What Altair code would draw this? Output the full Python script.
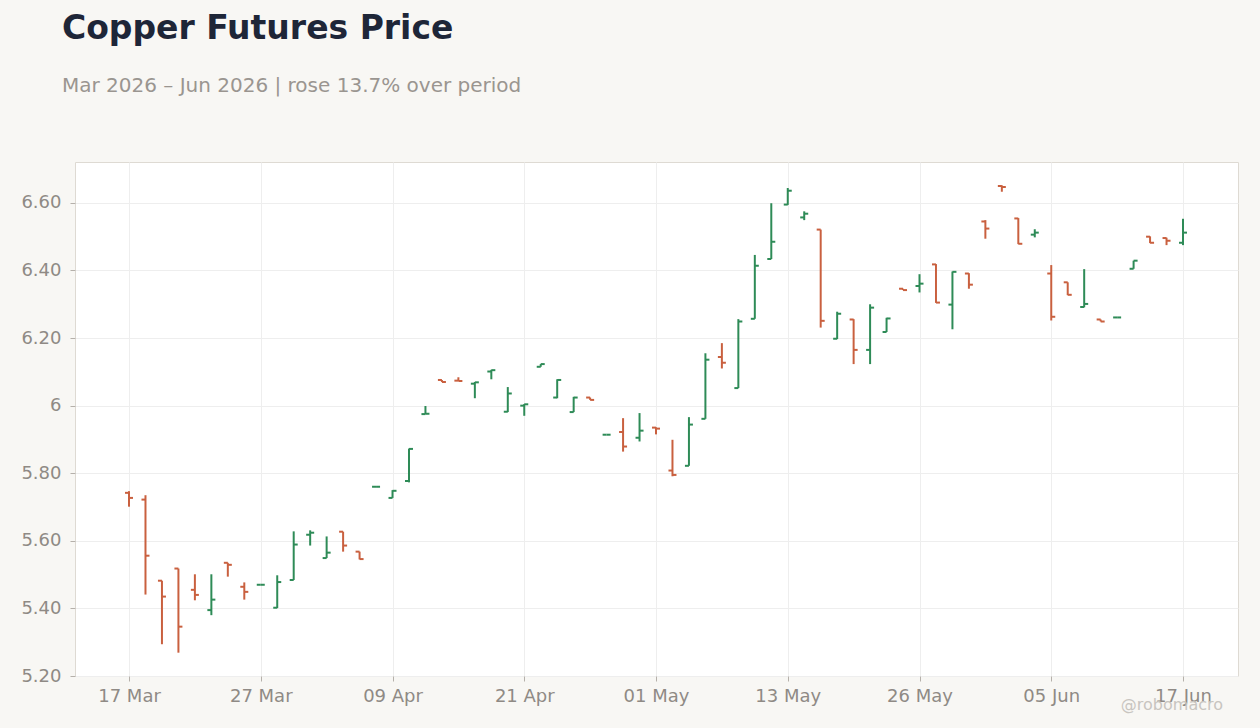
import altair as alt
import pandas as pd

dates = ["17 Mar", "18 Mar", "19 Mar", "20 Mar", "23 Mar", "24 Mar", "25 Mar", "26 Mar", "27 Mar",
         "30 Mar", "31 Mar", "01 Apr", "02 Apr", "06 Apr", "07 Apr", "08 Apr", "09 Apr",
         "10 Apr", "13 Apr", "14 Apr", "15 Apr", "16 Apr", "17 Apr", "20 Apr", "21 Apr",
         "22 Apr", "23 Apr", "24 Apr", "27 Apr", "28 Apr", "29 Apr", "30 Apr", "01 May",
         "04 May", "05 May", "06 May", "07 May", "08 May", "11 May", "12 May", "13 May",
         "14 May", "15 May", "18 May", "19 May", "20 May", "21 May", "22 May", "26 May",
         "27 May", "28 May", "29 May", "01 Jun", "02 Jun", "03 Jun", "04 Jun", "05 Jun",
         "08 Jun", "09 Jun", "10 Jun", "11 Jun", "12 Jun", "15 Jun", "16 Jun", "17 Jun"]

open_ = [5.742, 5.722, 5.482, 5.518, 5.455, 5.395, 5.535, 5.464, 5.470,
         5.402, 5.484, 5.618, 5.549, 5.627, 5.568, 5.760, 5.727,
         5.777, 5.975, 6.076, 6.074, 6.065, 6.101, 5.982, 6.000,
         6.115, 6.024, 5.981, 6.024, 5.914, 5.922, 5.905, 5.935,
         5.808, 5.822, 5.961, 6.144, 6.052, 6.257, 6.434, 6.595,
         6.557, 6.521, 6.198, 6.255, 6.165, 6.218, 6.346, 6.354,
         6.418, 6.299, 6.391, 6.545, 6.650, 6.554, 6.506, 6.391,
         6.365, 6.292, 6.255, 6.261, 6.405, 6.500, 6.496, 6.482]
high = [5.747, 5.735, 5.482, 5.518, 5.501, 5.501, 5.535, 5.477, 5.470,
        5.498, 5.628, 5.631, 5.613, 5.627, 5.568, 5.760, 5.750,
        5.873, 5.999, 6.076, 6.084, 6.070, 6.106, 6.055, 6.005,
        6.123, 6.078, 6.026, 6.024, 5.914, 5.963, 5.978, 5.936,
        5.899, 5.966, 6.155, 6.185, 6.256, 6.446, 6.599, 6.644,
        6.575, 6.521, 6.278, 6.256, 6.300, 6.260, 6.346, 6.389,
        6.419, 6.397, 6.392, 6.549, 6.652, 6.555, 6.522, 6.416,
        6.365, 6.404, 6.255, 6.261, 6.429, 6.501, 6.497, 6.553]
low = [5.701, 5.441, 5.294, 5.269, 5.424, 5.380, 5.494, 5.426, 5.470,
       5.401, 5.484, 5.586, 5.549, 5.568, 5.545, 5.760, 5.727,
       5.773, 5.975, 6.070, 6.073, 6.022, 6.078, 5.981, 5.970,
       6.115, 6.022, 5.981, 6.017, 5.914, 5.864, 5.894, 5.915,
       5.791, 5.822, 5.961, 6.110, 6.052, 6.257, 6.434, 6.594,
       6.549, 6.231, 6.197, 6.123, 6.123, 6.218, 6.342, 6.335,
       6.304, 6.226, 6.346, 6.494, 6.633, 6.478, 6.498, 6.252,
       6.327, 6.291, 6.249, 6.261, 6.405, 6.481, 6.475, 6.475]
close = [5.727, 5.556, 5.435, 5.346, 5.440, 5.426, 5.529, 5.449, 5.470,
         5.478, 5.589, 5.624, 5.565, 5.586, 5.546, 5.760, 5.748,
         5.872, 5.976, 6.070, 6.073, 6.069, 6.105, 6.036, 6.004,
         6.123, 6.076, 6.024, 6.017, 5.914, 5.879, 5.926, 5.932,
         5.795, 5.944, 6.136, 6.127, 6.249, 6.414, 6.485, 6.636,
         6.568, 6.251, 6.272, 6.165, 6.290, 6.258, 6.342, 6.361,
         6.305, 6.396, 6.358, 6.524, 6.647, 6.479, 6.512, 6.263,
         6.328, 6.301, 6.249, 6.261, 6.429, 6.482, 6.488, 6.512]

tick_idx = [0, 8, 16, 24, 32, 40, 48, 56, 64]

df = pd.DataFrame({
    "idx": list(range(len(dates))),
    "date": dates,
    "open": open_, "high": high, "low": low, "close": close,
})
df["dir"] = ["up" if c >= o else "down" for o, c in zip(open_, close)]

label_map = "{" + ",".join(f"'{i}':'{dates[i]}'" for i in tick_idx) + "}"

UP = "#2e8b57"
DOWN = "#c9603f"
color = alt.Color("dir:N", scale=alt.Scale(domain=["up", "down"], range=[UP, DOWN]), legend=None)

x = alt.X("idx:Q",
          scale=alt.Scale(domain=[-3.28, 67.34], nice=False, zero=False),
          axis=alt.Axis(values=tick_idx, labelExpr=f"{label_map}[toString(datum.value)]",
                        title=None, grid=True))
y_scale = alt.Scale(domain=[5.2, 6.721], nice=False, zero=False)
y = alt.Y("low:Q", scale=y_scale,
          axis=alt.Axis(values=[5.2, 5.4, 5.6, 5.8, 6.0, 6.2, 6.4, 6.6],
                        labelExpr="datum.value == 6 ? '6' : format(datum.value, '.2f')",
                        title=None, grid=True, labelPadding=9))

base = alt.Chart(df)
hl = base.mark_rule(strokeWidth=2).encode(x=x, y=y, y2="high:Q", color=color)
op = base.mark_rule(strokeWidth=2, xOffset=-4, x2Offset=0).encode(
    x="idx:Q", x2="idx:Q", y=alt.Y("open:Q", scale=y_scale), color=color)
cl = base.mark_rule(strokeWidth=2, xOffset=0, x2Offset=4).encode(
    x="idx:Q", x2="idx:Q", y=alt.Y("close:Q", scale=y_scale), color=color)

wm = alt.Chart(pd.DataFrame({"t": ["@robomacro"]})).mark_text(
    align="right", baseline="middle", fontSize=16, color="#c8c5c0", font="DejaVu Sans"
).encode(x=alt.value(1148), y=alt.value(543), text="t:N")

chart = alt.layer(hl, op, cl, wm).properties(
    width=1163, height=514,
    autosize=alt.AutoSizeParams(type="none"),
    padding={"left": 75, "top": 162, "right": 22, "bottom": 52},
    background="#f8f7f4",
    title=alt.TitleParams(
        text="Copper Futures Price",
        subtitle="Mar 2026 – Jun 2026 | rose 13.7% over period",
        anchor="start", dx=41, offset=66,
        font="DejaVu Sans", fontSize=33, fontWeight="bold", color="#1e2638",
        subtitleFont="DejaVu Sans", subtitleFontSize=20, subtitleColor="#9a9590",
        subtitlePadding=30,
    ),
).configure_view(
    fill="white", stroke="#dedad3", strokeWidth=1
).configure_axis(
    labelFont="DejaVu Sans", labelFontSize=18, labelColor="#8f8a85",
    gridColor="#eeeeee", gridWidth=1, domain=False,
    tickColor="#b5b0aa", tickSize=5, labelPadding=6,
)

chart.save("out.html", embed_options={"renderer": "svg", "actions": False})
